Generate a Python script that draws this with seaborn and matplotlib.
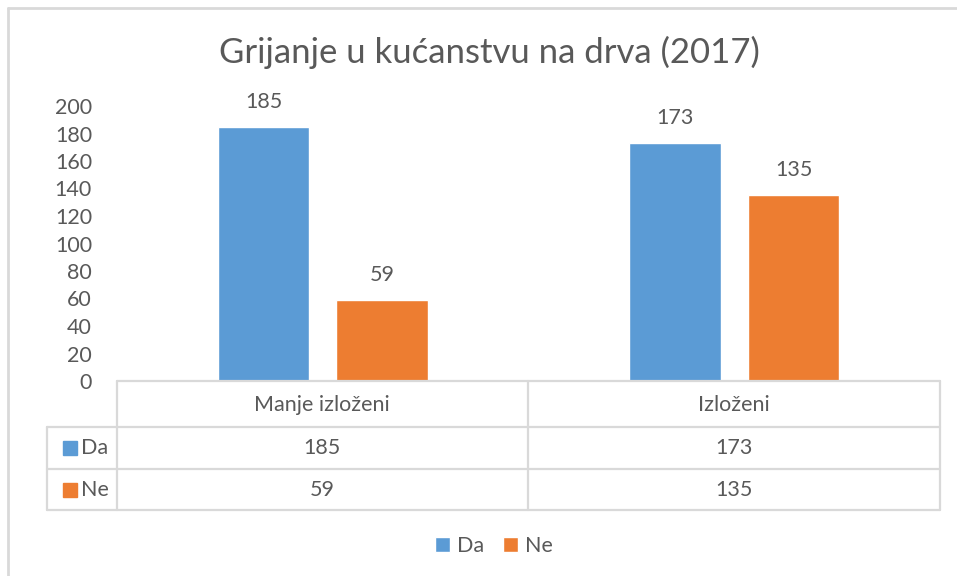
import pandas as pd
import seaborn as sns
import matplotlib.pyplot as plt
from matplotlib.lines import Line2D
from matplotlib.patches import Patch

title = "Grijanje u kućanstvu na drva (2017)"
categories = ["Manje izloženi", "Izloženi"]
series = ["Da", "Ne"]
da_values = [185, 173]
ne_values = [59, 135]
colors = ["#5B9BD5", "#ED7D31"]
text_color = "#595959"
grid_color = "#d9d9d9"

df = pd.DataFrame({
    "kategorija": categories * 2,
    "odgovor": [series[0]] * len(categories) + [series[1]] * len(categories),
    "broj": da_values + ne_values,
})

sns.set_style("white")
plt.rcParams["font.family"] = ["Lato", "DejaVu Sans"]

W, H = 957, 576
fs = 15.5
fig = plt.figure(figsize=(W / 100, H / 100), dpi=100)


def fx(px):
    return px / W


def fy(py):
    return 1 - py / H


ax = fig.add_axes([fx(117), fy(381), fx(940) - fx(117), fy(106) - fy(381)])
sns.barplot(data=df, x="kategorija", y="broj", hue="odgovor", order=categories,
            hue_order=series, palette=colors, width=0.576, gap=0.224,
            saturation=1, legend=False, ax=ax)

ax.set_ylim(0, 200)
ax.set_yticks(range(0, 201, 20))
ax.set_xlabel("")
ax.set_ylabel("")
ax.set_xticks([])
for s in ax.spines.values():
    s.set_visible(False)
ax.tick_params(axis="y", length=0, pad=18, labelsize=fs, labelcolor=text_color)

for cont in ax.containers:
    for bar in cont:
        h = bar.get_height()
        ax.annotate(f"{h:.0f}", (bar.get_x() + bar.get_width() / 2, h),
                    xytext=(0, 18), textcoords="offset points",
                    ha="center", va="center", fontsize=fs, color=text_color)

fig.text(fx(489), fy(52), title, ha="center", va="center", fontsize=25, color=text_color)

# data table under the axis
def hline(y, x0, x1):
    fig.add_artist(Line2D([fx(x0), fx(x1)], [fy(y), fy(y)], color=grid_color, lw=1.6))


def vline(x, y0, y1):
    fig.add_artist(Line2D([fx(x), fx(x)], [fy(y0), fy(y1)], color=grid_color, lw=1.6))


hline(381, 117, 940)
for y in (427, 469, 510):
    hline(y, 47, 940)
for x in (117, 528, 940):
    vline(x, 381, 510)
vline(47, 427, 510)

col_centers = [322, 734]
for cx, cat in zip(col_centers, categories):
    fig.text(fx(cx), fy(405), cat, ha="center", va="center", fontsize=fs, color=text_color)
row_y = [448, 490]
for ry, name, vals, c in zip(row_y, series, [da_values, ne_values], colors):
    fig.add_artist(plt.Rectangle((fx(63), fy(ry + 7)), fx(14), 14 / H, color=c))
    fig.text(fx(81), fy(ry), name, ha="left", va="center", fontsize=fs, color=text_color)
    for cx, v in zip(col_centers, vals):
        fig.text(fx(cx), fy(ry), str(v), ha="center", va="center", fontsize=fs, color=text_color)

# legend
handles = [Patch(facecolor=c, label=s) for s, c in zip(series, colors)]
fig.legend(handles=handles, loc="center", bbox_to_anchor=(fx(494), fy(546)), ncol=2,
           frameon=False, fontsize=fs, labelcolor=text_color, handlelength=0.7,
           handleheight=0.7, handletextpad=0.3, columnspacing=0.9)

# chart frame
fig.add_artist(Line2D([fx(8), fx(8)], [fy(8), 0], color=grid_color, lw=2))
fig.add_artist(Line2D([fx(8), 1], [fy(8), fy(8)], color=grid_color, lw=2))

plt.savefig("out.png", dpi=100)
